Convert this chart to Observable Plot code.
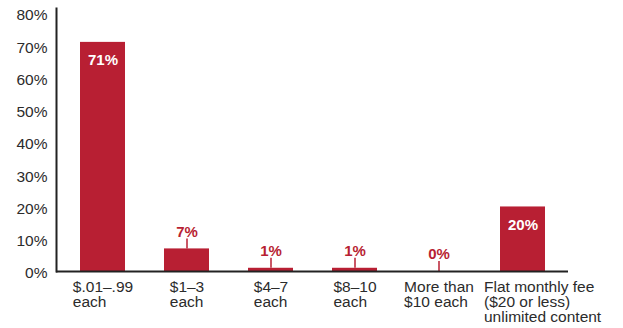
<!DOCTYPE html>
<html>
<head>
<meta charset="utf-8">
<script src="https://cdn.jsdelivr.net/npm/d3@7"></script>
<script src="https://cdn.jsdelivr.net/npm/@observablehq/plot@0.6"></script>
<style>
  html, body { margin: 0; padding: 0; background: #fff; }
  #chart svg { display: block; }
</style>
</head>
<body>
<div id="chart"></div>
<script>
const categories = [
  "$.01–.99\neach",
  "$1–3\neach",
  "$4–7\neach",
  "$8–10\neach",
  "More than\n$10 each",
  "Flat monthly fee\n($20 or less)\nunlimited content"
];
const values = [71, 7, 1, 1, 0, 20];
const yTicks = [0, 10, 20, 30, 40, 50, 60, 70, 80];

const RED = "#b81f33";
const FONT = "'Liberation Sans', Arial, Helvetica, sans-serif";
const data = categories.map((c, i) => ({category: c, value: values[i]}));
const inside = data.filter(d => d.value >= 10);
const outside = data.filter(d => d.value < 10);

// measure label widths to left-align lines inside a roughly centered block
const LABEL_SIZE = 15.5;
const ctx = document.createElement("canvas").getContext("2d");
ctx.font = LABEL_SIZE + "px 'Liberation Sans'";
const labelMarks = categories.map(c => {
  const w = Math.max(...c.split("\n").map(s => ctx.measureText(s).width));
  return Plot.text([c], {
    x: d => d,
    text: d => d,
    frameAnchor: "bottom",
    textAnchor: "start",
    lineAnchor: "top",
    lineHeight: 0.97,
    dx: -Math.min(w / 2, 39),
    dy: 10,
    fontSize: LABEL_SIZE,
    fill: "#2b2b2b"
  });
});

const chart = Plot.plot({
  width: 623,
  height: 328,
  marginLeft: 56,
  marginRight: 55,
  marginTop: 8,
  marginBottom: 57,
  style: {fontFamily: FONT, background: "#fff"},
  x: {domain: categories, paddingInner: 0.47, paddingOuter: 0.25, axis: null},
  y: {domain: [0, 81.5], axis: null},
  marks: [
    Plot.axisY({
      ticks: yTicks,
      tickFormat: d => d + "%",
      tickSize: 0,
      tickPadding: 9,
      fontSize: 15.5,
      fill: "#2b2b2b",
      label: null,
      dy: 2
    }),
    Plot.barY(data, {x: "category", y: "value", fill: RED}),
    Plot.text(inside, {
      x: "category", y: "value", text: d => d.value + "%",
      fill: "#fff", fontWeight: "bold", fontSize: 15, dy: 18
    }),
    Plot.ruleX(outside, {
      x: "category", y1: "value", y2: d => d.value + 3.1,
      stroke: RED, strokeWidth: 1.5
    }),
    Plot.text(outside, {
      x: "category", y: "value", text: d => d.value + "%",
      fill: RED, fontWeight: "bold", fontSize: 15, dy: -17
    }),
    Plot.frame({anchor: "left", stroke: "#222", strokeWidth: 2}),
    Plot.ruleY([0], {stroke: "#222", strokeWidth: 2}),
    ...labelMarks
  ]
});
document.getElementById("chart").appendChild(chart);
</script>
</body>
</html>
